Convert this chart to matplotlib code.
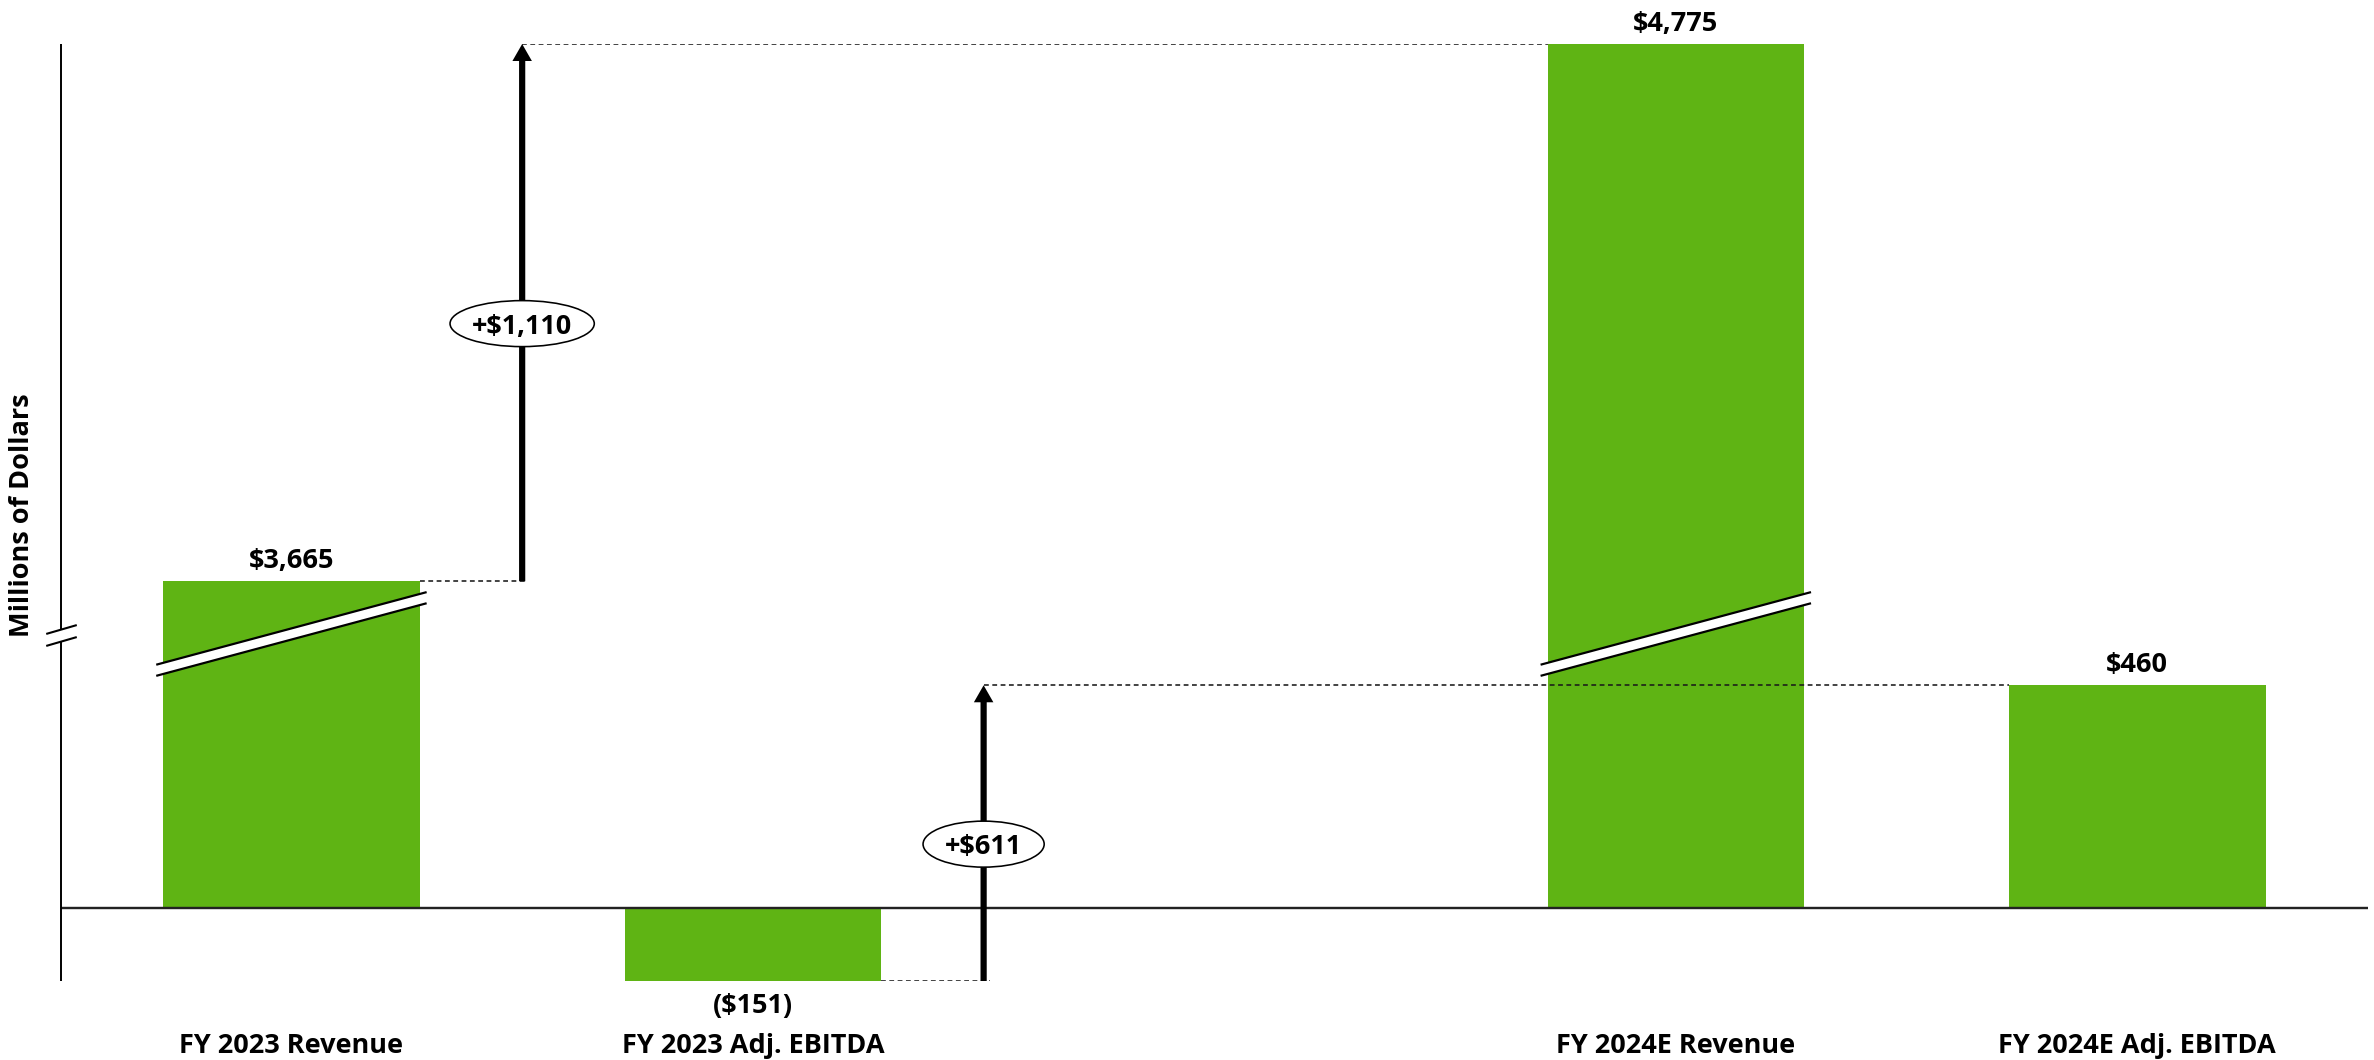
import matplotlib
matplotlib.use("Agg")
import matplotlib.pyplot as plt
from matplotlib.patches import Ellipse, Polygon
from matplotlib.transforms import ScaledTranslation, blended_transform_factory

# ---- data -------------------------------------------------------------
categories = ["FY 2023 Revenue", "FY 2023 Adj. EBITDA",
              "FY 2024E Revenue", "FY 2024E Adj. EBITDA"]
values = [3665, -151, 4775, 460]
value_labels = ["$3,665", "($151)", "$4,775", "$460"]
positions = [0, 1, 3, 4]
# (from bar, to bar) joined by a change arrow
change_pairs = [(0, 2), (1, 3)]
change_labels = ["+$1,110", "+$611"]
# bars that run through the cut in the value axis
broken_bars = [0, 2]

# the value axis is broken: the span between these two values is cut out
CUT_LOW = 566
CUT_HIGH = 3556


def shown(v):
    """Position of a value on the broken axis."""
    return v - (CUT_HIGH - CUT_LOW) if v > CUT_LOW else v


# ---- style ------------------------------------------------------------
plt.rcParams["font.family"] = ["Open Sans", "DejaVu Sans"]
plt.rcParams["font.weight"] = "bold"
FS = 19.5
GREEN = "#5FB414"
BAR_W = 0.556
DPI = 100
PX = 72 / DPI  # points per pixel

fig = plt.figure(figsize=(23.74, 10.60), dpi=DPI)
ax = fig.add_axes([0.02557, 0.07453, 0.97190, 0.88396])

heights = [shown(v) for v in values]
ax.bar(positions, heights, width=BAR_W, color=GREEN, zorder=2)

ax.set_xlim(-0.5, 4.5)
ax.set_ylim(min(values), shown(max(values)))
for s in ax.spines.values():
    s.set_visible(False)
ax.set_yticks([])
ax.set_xticks(positions, categories, fontsize=FS, fontweight="bold")
ax.tick_params(axis="x", length=0, pad=72 * PX)
for lab in ax.get_xticklabels():
    lab.set_verticalalignment("baseline")

# zero line
ax.axhline(0, color="#222222", lw=2.4 * PX, zorder=3)

# value axis drawn by hand with a break symbol
yax = blended_transform_factory(ax.transAxes, ax.transData)
gap_lo, gap_hi = CUT_LOW - 14, CUT_LOW + 11
ax.plot([0, 0], [min(values), gap_lo], transform=yax, color="black",
        lw=1.4, clip_on=False, solid_capstyle="butt", zorder=3)
ax.plot([0, 0], [gap_hi, shown(max(values))], transform=yax, color="black",
        lw=1.4, clip_on=False, solid_capstyle="butt", zorder=3)
ax.plot([0, 0], [gap_lo, gap_hi], transform=yax, ls="none",
        marker=[(-1, -0.29), (1, 0.29)], ms=22, mew=1.5, color="black",
        clip_on=False, zorder=3)

# slanted cut bands across the tall bars
BAND_RISE = 75
BAND_HALF = 11.5
BAND_OVER = 0.015
for i in broken_bars:
    xl = positions[i] - BAR_W / 2 - BAND_OVER
    xr = positions[i] + BAR_W / 2 + BAND_OVER
    yl = CUT_LOW - BAND_RISE
    yr = CUT_LOW + BAND_RISE
    ax.add_patch(Polygon([(xl, yl - BAND_HALF), (xr, yr - BAND_HALF),
                          (xr, yr + BAND_HALF), (xl, yl + BAND_HALF)],
                         closed=True, facecolor="white", edgecolor="none",
                         zorder=3))
    for sgn in (-1, 1):
        ax.plot([xl, xr], [yl + sgn * BAND_HALF, yr + sgn * BAND_HALF],
                color="black", lw=2.2 * PX, zorder=3.5,
                solid_capstyle="butt")

# value labels
for x, v, lab in zip(positions, values, value_labels):
    off = 13 if v >= 0 else -32
    ax.annotate(lab, xy=(x, shown(v)), xytext=(0, off),
                textcoords="offset pixels", ha="center", va="baseline",
                fontsize=FS, fontweight="bold", zorder=7)

# change arrows with dashed leaders and oval labels
DASH = dict(color="#1a1a1a", lw=1.6 * PX, ls=(0, (3.0, 2.2)), zorder=4)
renderer = fig.canvas.get_renderer()
for (a, b), lab in zip(change_pairs, change_labels):
    xa = positions[a] + 0.5
    y0 = shown(values[a])
    y1 = shown(values[b])
    ax.plot([positions[a] + BAR_W / 2, xa + 0.013], [y0, y0], **DASH)
    ax.plot([xa, positions[b] - BAR_W / 2], [y1, y1], **DASH)
    ax.annotate("", xy=(xa, y1), xytext=(xa, y0),
                arrowprops=dict(width=6.2 * PX, headwidth=19.5 * PX,
                                headlength=17 * PX, shrink=0,
                                facecolor="black", edgecolor="none", lw=0),
                zorder=5)
    ymid = (y0 + y1) / 2
    base = fig.dpi_scale_trans + ScaledTranslation(xa, ymid, ax.transData)
    t = ax.text(0, -21 / DPI, lab, transform=base, ha="center",
                va="baseline", fontsize=FS, fontweight="bold", zorder=7)
    w_px = t.get_window_extent(renderer).width + 44
    ax.add_patch(Ellipse((0, -11 / DPI), w_px / DPI, 46 / DPI,
                         transform=base, facecolor="white",
                         edgecolor="black", lw=1.6 * PX, zorder=6,
                         clip_on=False))

# axis title
fig.text(22 / 2374, 1 - 515 / 1060, "Millions of Dollars", rotation=90,
         ha="center", va="center", fontsize=FS, fontweight="bold")

fig.savefig("out.png", dpi=DPI)
